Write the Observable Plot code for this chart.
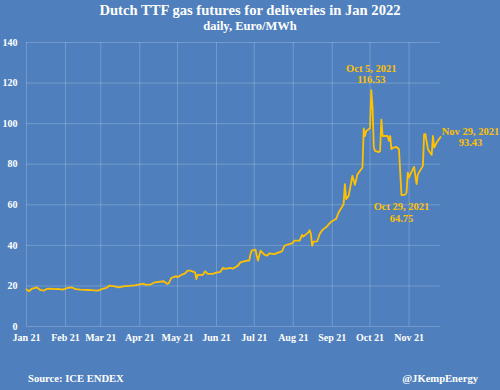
<!DOCTYPE html>
<html>
<head>
<meta charset="utf-8">
<script src="https://cdn.jsdelivr.net/npm/d3@7"></script>
<script src="https://cdn.jsdelivr.net/npm/@observablehq/plot@0.6"></script>
<style>
  html, body { margin: 0; padding: 0; }
  #wrap { width: 500px; height: 390px; background: #4f80bd; font-family: "Liberation Serif", "Times New Roman", Times, "DejaVu Serif", serif; font-weight: bold; color: #fff; overflow: hidden; }
  #head { height: 34px; text-align: center; padding-top: 1px; box-sizing: border-box; }
  #title { font-size: 14.6px; line-height: 18px; }
  #subtitle { font-size: 12.5px; line-height: 14px; }
  #chart { height: 320px; }
  #foot { height: 36px; box-sizing: border-box; padding: 18px 22px 0 28px; font-size: 10.6px; line-height: 14px; display: flex; justify-content: space-between; }
  #chart svg, #chart svg text { font-family: "Liberation Serif", "Times New Roman", Times, "DejaVu Serif", serif !important; }
</style>
</head>
<body>
<div id="wrap">
  <div id="head">
    <div id="title">Dutch TTF gas futures for deliveries in Jan 2022</div>
    <div id="subtitle">daily, Euro/MWh</div>
  </div>
  <div id="chart"></div>
  <div id="foot"><span>Source: ICE ENDEX</span><span>@JKempEnergy</span></div>
</div>
<script>
const dates = [
  "2021-01-04","2021-01-06","2021-01-08","2021-01-11","2021-01-12","2021-01-15","2021-01-18","2021-01-20","2021-01-22","2021-01-27","2021-01-29",
  "2021-02-02","2021-02-05","2021-02-08","2021-02-10","2021-02-12","2021-02-16","2021-02-22","2021-02-25",
  "2021-03-01","2021-03-03","2021-03-05","2021-03-08","2021-03-11","2021-03-15","2021-03-18","2021-03-22","2021-03-26","2021-03-31",
  "2021-04-06","2021-04-07","2021-04-09","2021-04-13","2021-04-16","2021-04-23","2021-04-26","2021-04-27","2021-04-29",
  "2021-05-03","2021-05-04","2021-05-07","2021-05-10","2021-05-12","2021-05-14","2021-05-18","2021-05-19","2021-05-20","2021-05-24","2021-05-26","2021-05-28",
  "2021-06-01","2021-06-03","2021-06-07","2021-06-09","2021-06-11","2021-06-15","2021-06-17","2021-06-21","2021-06-23","2021-06-28","2021-06-30",
  "2021-07-01","2021-07-02","2021-07-05","2021-07-06","2021-07-07","2021-07-09","2021-07-12","2021-07-14","2021-07-16","2021-07-20","2021-07-23","2021-07-26","2021-07-28","2021-07-30",
  "2021-08-03","2021-08-05","2021-08-09","2021-08-11","2021-08-12","2021-08-16","2021-08-17","2021-08-18","2021-08-19","2021-08-20","2021-08-23","2021-08-25","2021-08-27","2021-08-30",
  "2021-09-01","2021-09-03","2021-09-07","2021-09-09","2021-09-13","2021-09-14","2021-09-15","2021-09-17","2021-09-20","2021-09-22","2021-09-24","2021-09-28","2021-09-29","2021-09-30",
  "2021-10-01","2021-10-04","2021-10-05","2021-10-06","2021-10-07","2021-10-08","2021-10-11","2021-10-12","2021-10-13","2021-10-14","2021-10-18","2021-10-19","2021-10-20","2021-10-21","2021-10-22","2021-10-25","2021-10-27","2021-10-28","2021-10-29",
  "2021-11-01","2021-11-02","2021-11-03","2021-11-04","2021-11-05","2021-11-08","2021-11-10","2021-11-11","2021-11-15","2021-11-16","2021-11-17","2021-11-19","2021-11-22","2021-11-23","2021-11-24","2021-11-26","2021-11-29"
];
const prices = [
  18.3,17.4,18.5,19.0,19.3,18.0,17.7,18.5,18.7,18.4,18.5,
  18.2,18.9,19.3,19.0,18.4,18.2,18.0,17.9,
  17.7,17.9,18.5,18.9,20.2,19.8,19.3,19.8,20.0,20.3,
  21.0,21.1,20.5,20.8,21.8,22.3,21.0,21.3,23.9,
  24.8,24.3,25.4,26.2,27.5,27.5,26.7,23.4,25.4,25.4,27.2,25.9,
  25.9,26.4,26.9,28.9,28.4,28.9,28.5,30.0,31.6,32.5,32.5,
  35.7,37.4,37.9,34.9,32.5,37.4,35.4,34.9,36.0,35.7,36.4,37.0,39.8,40.3,
  41.0,42.3,42.3,45.2,44.3,46.4,47.5,45.6,39.8,41.8,42.0,45.6,47.5,48.9,
  50.2,51.6,53.0,56.2,60.3,70.2,62.8,64.4,74.3,69.8,75.0,78.4,97.7,93.9,
  96.4,97.7,116.53,107.9,88.2,86.6,86.0,86.5,102.0,93.9,93.9,91.5,93.9,87.4,88.0,88.5,87.4,76.0,64.75,
  65.0,66.0,75.9,73.4,75.0,78.7,70.2,75.0,79.2,94.8,94.8,87.4,84.6,93.9,88.2,90.7,93.43
];
const tickDates = ["2021-01-04","2021-02-04","2021-03-04","2021-04-04","2021-05-04","2021-06-04","2021-07-04","2021-08-04","2021-09-04","2021-10-04","2021-11-04"];
const yTicks = [0, 20, 40, 60, 80, 100, 120, 140];
const noteDates = ["2021-10-05", "2021-10-29", "2021-11-29"];
const noteValues = [116.53, 64.75, 93.43];
const noteLabels = ["Oct 5, 2021\n116.53", "Oct 29, 2021\n64.75", "Nov 29, 2021\n93.43"];

const series = dates.map((d, i) => ({date: new Date(d), value: prices[i]}));
const ticks = tickDates.map(d => new Date(d));
const notes = noteDates.map((d, i) => ({date: new Date(d), value: noteValues[i], label: noteLabels[i]}));
const fmt = d3.utcFormat("%b %y");
const gold = "#ffc000";
const grid = "rgba(255,255,255,0.2)";
const noteStyle = {fill: gold, fontSize: 10.5, fontWeight: "bold", lineHeight: 1.1};

const chart = Plot.plot({
  width: 500,
  height: 320,
  marginLeft: 26,
  marginRight: 60,
  marginTop: 8,
  marginBottom: 28,
  style: {background: "transparent", color: "white", fontFamily: "'Liberation Serif', 'Times New Roman', serif", fontSize: "10px", fontWeight: "bold", overflow: "visible"},
  x: {type: "utc", domain: [new Date("2021-01-04"), new Date("2021-11-29")]},
  y: {domain: [0, 140]},
  marks: [
    Plot.gridY(yTicks, {stroke: grid, strokeOpacity: 1, strokeWidth: 1}),
    Plot.gridX(ticks, {stroke: grid, strokeOpacity: 1, strokeWidth: 1}),
    Plot.axisX(ticks, {tickSize: 0, tickPadding: 7, tickFormat: fmt, label: null, fill: "white"}),
    Plot.axisY(yTicks, {tickSize: 0, tickPadding: 9, label: null, fill: "white"}),
    Plot.line(series, {x: "date", y: "value", stroke: gold, strokeWidth: 1.8, strokeLinejoin: "round"}),
    Plot.text([notes[0]], {x: "date", y: "value", text: "label", lineAnchor: "bottom", dy: -7, ...noteStyle}),
    Plot.text([notes[1]], {x: "date", y: "value", text: "label", lineAnchor: "top", dy: 7, ...noteStyle}),
    Plot.text([notes[2]], {x: "date", y: "value", text: "label", lineAnchor: "middle", dx: 30, dy: 0, ...noteStyle})
  ]
});
document.getElementById("chart").appendChild(chart);
</script>
</body>
</html>
